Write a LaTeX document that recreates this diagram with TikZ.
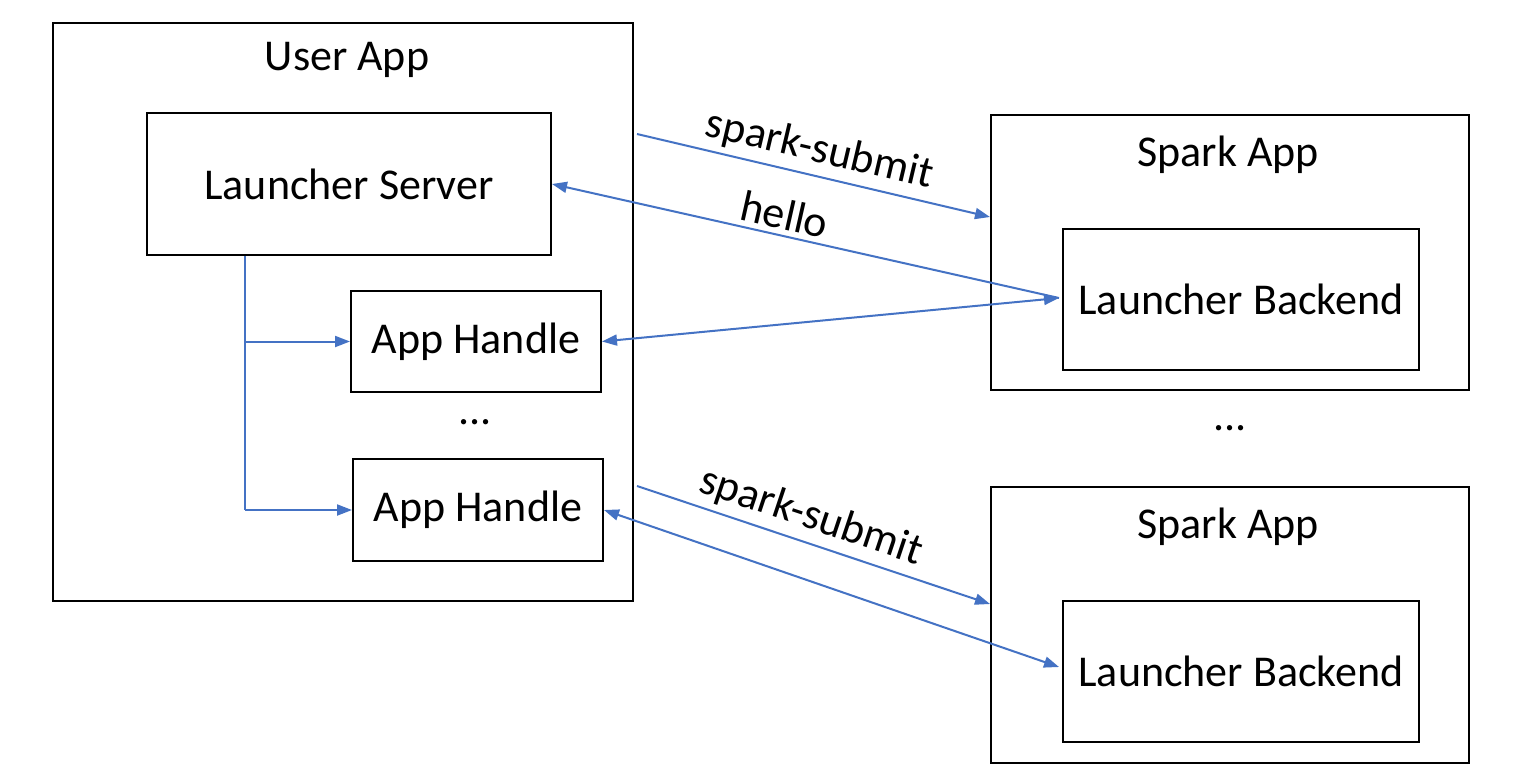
\documentclass[tikz,border=0pt]{standalone}
\usepackage{fontspec}
\setmainfont{Carlito}
\usetikzlibrary{arrows.meta,calc}
\definecolor{lineblue}{HTML}{4472C4}
\tikzset{
  box/.style={draw=black,line width=2pt,minimum width=#1,inner sep=0pt},
  lbl/.style={font=\fontsize{44}{52}\selectfont,inner sep=0pt},
  conn/.style={draw=lineblue,line width=2pt,-{Triangle[length=15pt,width=11pt]}},
  dconn/.style={draw=lineblue,line width=2pt,{Triangle[length=15pt,width=11pt]}-{Triangle[length=15pt,width=11pt]}},
  plain/.style={draw=lineblue,line width=2pt},
}
\begin{document}
\begin{tikzpicture}[x=1pt,y=-1pt]
\useasboundingbox (0,0) rectangle (1520,780);
\fill[white] (0,0) rectangle (1520,780);
% boxes
\node[box=580pt,minimum height=578pt] (ua) at (343,312) {};
\node[lbl] (uat) at (347,60) {User App};
\node[box=404pt,minimum height=142pt,lbl] (ls) at (349,184) {Launcher Server};
\node[box=250pt,minimum height=101pt,lbl] (ah1) at (476,341.5) {App Handle};
\node[box=250pt,minimum height=102pt,lbl] (ah2) at (478,510) {App Handle};
\node[lbl] (d1) at (475,422) {...};
\node[box=478pt,minimum height=275pt] (sa1) at (1230,252.5) {};
\node[lbl] (sa1t) at (1228,155) {Spark App};
\node[box=356pt,minimum height=141pt,lbl] (lb1) at (1241,299.5) {Launcher Backend};
\node[lbl] (d2) at (1230,428) {...};
\node[box=478pt,minimum height=276pt] (sa2) at (1230,625) {};
\node[lbl] (sa2t) at (1228,527) {Spark App};
\node[box=356pt,minimum height=141pt,lbl] (lb2) at (1241,671.5) {Launcher Backend};
% connectors
\coordinate (s1a) at ($(ua.north east)+(3,112)$);
\coordinate (s1b) at ($(sa1.north west)+(0,103)$);
\coordinate (lb1w) at ($(lb1.north west)+(-3,70)$);
\coordinate (lb2w) at ($(lb2.north west)+(-3,67)$);
\draw[conn] (s1a) -- (s1b) node[lbl,midway,sloped,above=6pt] (t1) {spark-submit};
\draw[conn] (lb1w) -- (ls.east) node[lbl,pos=0.55,sloped,above=5pt] (t2) {hello};
\draw[dconn] (ah1.east) -- (lb1w);
\coordinate (s2a) at ($(ua.north east)+(3,464)$);
\coordinate (s2b) at ($(sa2.north west)+(0,118)$);
\draw[conn] (s2a) -- (s2b) node[lbl,pos=0.47,sloped,above=6pt] (t3) {spark-submit};
\draw[dconn] (ah2.east) -- (lb2w);
% tree
\coordinate (tr) at ($(ls.south west)+(99,0)$);
\draw[plain] (tr) -- (tr |- ah2.west);
\draw[conn] (tr |- ah1.west) -- (ah1.west);
\draw[conn] (tr |- ah2.west) -- (ah2.west);
\end{tikzpicture}
\end{document}
